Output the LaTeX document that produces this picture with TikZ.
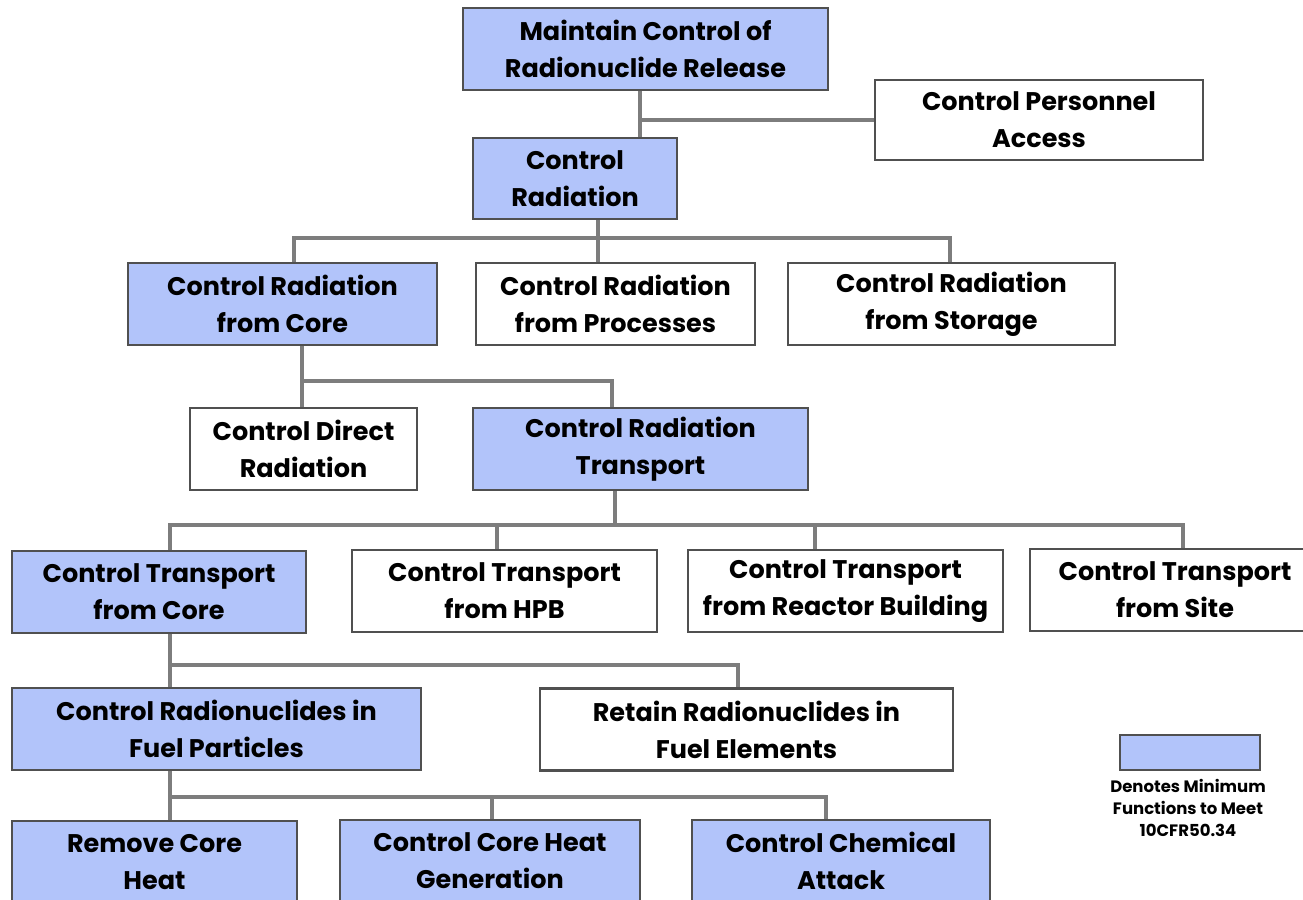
\documentclass[tikz,border=0pt]{standalone}
\usepackage{fontspec}
\setmainfont{Poppins}
\definecolor{boxfill}{RGB}{178,196,250}
\definecolor{boxline}{RGB}{80,80,80}
\definecolor{conn}{RGB}{125,125,125}
\begin{document}
\begin{tikzpicture}[x=1pt,y=-1pt,
  fbox/.style={draw=boxline,line width=2.6pt,minimum height=82pt,inner sep=0pt,align=center,
    font=\fontsize{25.5}{37}\selectfont\bfseries},
  blue/.style={fbox,fill=boxfill},
  white/.style={fbox,fill=white},
  link/.style={draw=conn,line width=3.5pt}]
\path[use as bounding box] (0,0) rectangle (1303,899);
\clip (0,0) rectangle (1303,899);
% nodes
\node[blue,minimum width=365pt] (m1) at (645.5,49) {Maintain Control of\\Radionuclide Release};
\node[white,minimum width=328pt,minimum height=80pt] (pa) at (1039,120) {Control Personnel\\Access};
\node[blue,minimum width=204pt,minimum height=81pt] (cr) at (575,178.5) {Control\\Radiation};
\node[blue,minimum width=309pt] (rc) at (282.5,304) {Control Radiation\\from Core};
\node[white,minimum width=279pt] (rp) at (615.5,304) {Control Radiation\\from Processes};
\node[white,minimum width=327pt] (rs) at (951.5,304) {Control Radiation\\from Storage};
\node[white,minimum width=227pt] (dr) at (303.5,449) {Control Direct\\Radiation};
\node[blue,minimum width=335pt] (rt) at (640.5,449) {Control Radiation\\Transport};
\node[blue,minimum width=294pt] (tc) at (159,592) {Control Transport\\from Core};
\node[white,minimum width=305pt] (th) at (504.5,591) {Control Transport\\from HPB};
\node[white,minimum width=315pt] (tr) at (845.5,591) {Control Transport\\from Reactor Building};
\node[white,minimum width=290pt] (ts) at (1175,590) {Control Transport\\from Site};
\node[blue,minimum width=409pt] (fp) at (216.5,729) {Control Radionuclides in\\Fuel Particles};
\node[white,minimum width=413pt] (fe) at (746.5,729.5) {Retain Radionuclides in\\Fuel Elements};
\node[blue,minimum width=285pt] (rh) at (154.5,862) {Remove Core\\Heat};
\node[blue,minimum width=300pt] (cg) at (490,861) {Control Core Heat\\Generation};
\node[blue,minimum width=298pt] (ca) at (841,861) {Control Chemical\\Attack};
% legend
\node[fill=boxfill,draw=boxline,line width=2.6pt,minimum width=140pt,minimum height=35pt,inner sep=0pt] (lg) at (1190,752.5) {};
\node[align=center,font=\fontsize{16.5}{22}\selectfont\bfseries,anchor=north,inner sep=0pt] (lt) at (1188,779) {Denotes Minimum\\Functions to Meet\\10CFR50.34};
% junction coordinates
\coordinate (j1) at (640,120);
\coordinate (b1) at (598,238);
\coordinate (b2) at (302,381);
\coordinate (b3) at (615,525);
\coordinate (b4) at (170,665);
\coordinate (b5) at (170,797);
% connectors
\draw[link] (m1.south -| j1) -- (cr.north -| j1);
\draw[link] (j1) -- (pa.west);
\draw[link] (cr.south -| b1) -- (b1);
\draw[link] (rc.north -| 294,0) -- (294,238) -- (950,238) -- (rs.north -| 950,0);
\draw[link] (b1) -- (rp.north -| b1);
\draw[link] (rc.south -| b2) -- (b2) -- (612,381) -- (rt.north -| 612,0);
\draw[link] (b2) -- (dr.north -| b2);
\draw[link] (rt.south -| b3) -- (b3);
\draw[link] (tc.north -| 170,0) -- (170,525) -- (1183,525) -- (ts.north -| 1183,0);
\draw[link] (th.north -| 497,0) -- (497,525);
\draw[link] (tr.north -| 815,0) -- (815,525);
\draw[link] (tc.south -| b4) -- (fp.north -| b4);
\draw[link] (b4) -- (738,665) -- (fe.north -| 738,0);
\draw[link] (fp.south -| b5) -- (rh.north -| b5);
\draw[link] (b5) -- (826,797) -- (ca.north -| 826,0);
\draw[link] (cg.north -| 492,0) -- (492,797);
\end{tikzpicture}
\end{document}
